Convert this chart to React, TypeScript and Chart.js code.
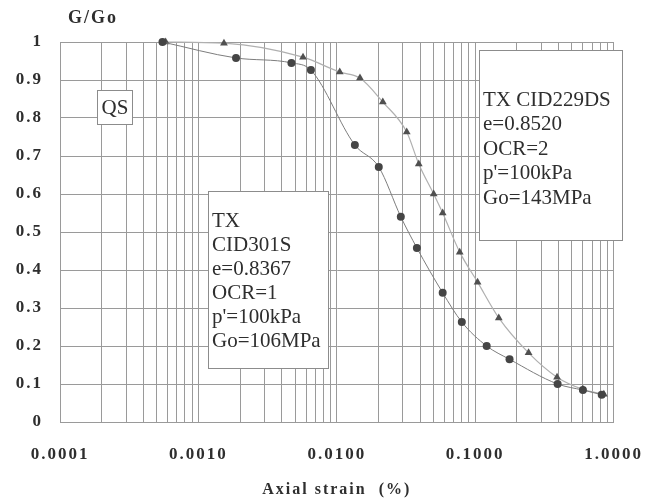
import React, { useEffect, useRef } from "react";
import { Chart, registerables } from "chart.js";

Chart.register(...registerables);

// ---- axis definitions ----
const X_DECADES = [0.0001, 0.001, 0.01, 0.1, 1];
const X_TICK_LABELS = ["0.0001", "0.0010", "0.0100", "0.1000", "1.0000"];
const X_MINOR_MULTIPLIERS = [1, 2, 3, 4, 5, 6, 7, 8, 9];
const Y_TICK_STEP = 0.1;
const Y_TITLE = "G/Go";
const X_TITLE = "Axial strain  (%)";

// ---- series: TX CID301S (OCR=1) ----
const OCR1_STRAIN = [0.00055, 0.00187, 0.0047, 0.0065, 0.0135, 0.0201, 0.029, 0.0379, 0.0582, 0.08, 0.121, 0.177, 0.394, 0.6, 0.82];
const OCR1_RATIO = [1.0, 0.958, 0.945, 0.926, 0.729, 0.671, 0.54, 0.458, 0.34, 0.263, 0.2, 0.165, 0.1, 0.084, 0.072];

// ---- series: TX CID229DS (OCR=2) ----
const OCR2_STRAIN = [0.00058, 0.00153, 0.0057, 0.0105, 0.0147, 0.0215, 0.032, 0.0391, 0.0501, 0.0582, 0.0773, 0.104, 0.148, 0.243, 0.39, 0.6, 0.85];
const OCR2_RATIO = [1.0, 0.997, 0.96, 0.921, 0.905, 0.842, 0.763, 0.679, 0.6, 0.55, 0.447, 0.368, 0.274, 0.182, 0.118, 0.086, 0.073];

// ---- annotation texts ----
const QS_LABEL = "QS";
const BOX_OCR1_LINES = ["TX", "CID301S", "e=0.8367", "OCR=1", "p'=100kPa", "Go=106MPa"];
const BOX_OCR2_LINES = ["TX CID229DS", "e=0.8520", "OCR=2", "p'=100kPa", "Go=143MPa"];

const FONT = "'Liberation Serif', 'Times New Roman', serif";
const TEXT_COLOR = "#2e2e2e";
const GRID_COLOR = "#9a9a9a";

const annotationPlugin = {
  id: "annotations",
  beforeDraw(chart: any) {
    (chart.ctx as any).letterSpacing = "2px";
  },
  afterDraw(chart: any) {
    const ctx = chart.ctx as CanvasRenderingContext2D;
    ctx.save();
    // y-axis caption
    (ctx as any).letterSpacing = "2px";
    ctx.font = `bold 18px ${FONT}`;
    ctx.fillStyle = TEXT_COLOR;
    ctx.textBaseline = "middle";
    ctx.textAlign = "left";
    ctx.fillText(Y_TITLE, 68, 18);

    (ctx as any).letterSpacing = "0px";
    const box = (x: number, y: number, w: number, h: number) => {
      ctx.fillStyle = "#ffffff";
      ctx.fillRect(x, y, w, h);
      ctx.strokeStyle = "#8c8c8c";
      ctx.lineWidth = 1;
      ctx.strokeRect(x + 0.5, y + 0.5, w, h);
    };
    ctx.font = `21px ${FONT}`;

    // QS
    box(97, 90, 35, 34);
    ctx.fillStyle = TEXT_COLOR;
    ctx.textAlign = "center";
    ctx.fillText(QS_LABEL, 115, 108);

    // OCR=1 box
    box(208, 191, 120, 177);
    ctx.fillStyle = TEXT_COLOR;
    ctx.textAlign = "left";
    BOX_OCR1_LINES.forEach((t, i) => ctx.fillText(t, 212, 221 + i * 24));

    // OCR=2 box
    box(479, 50, 143, 190);
    ctx.fillStyle = TEXT_COLOR;
    ctx.textAlign = "left";
    BOX_OCR2_LINES.forEach((t, i) => ctx.fillText(t, 483, 100 + i * 24.5));
    ctx.restore();
  },
};

export default function App() {
  const ref = useRef<HTMLCanvasElement | null>(null);

  useEffect(() => {
    if (!ref.current) return;
    const gridValues: number[] = [];
    X_DECADES.forEach((d, i) => {
      if (i === X_DECADES.length - 1) gridValues.push(d);
      else X_MINOR_MULTIPLIERS.forEach((m) => gridValues.push(d * m));
    });

    const chart = new Chart(ref.current, {
      type: "line",
      data: {
        datasets: [
          {
            label: "TX CID301S",
            data: OCR1_STRAIN.map((x, i) => ({ x, y: OCR1_RATIO[i] })),
            borderColor: "#7d7d7d",
            borderWidth: 1,
            backgroundColor: "#454545",
            pointBackgroundColor: "#454545",
            pointBorderWidth: 0,
            pointRadius: 4,
            pointStyle: "circle",
            cubicInterpolationMode: "monotone",
            clip: false,
          },
          {
            label: "TX CID229DS",
            data: OCR2_STRAIN.map((x, i) => ({ x, y: OCR2_RATIO[i] })),
            borderColor: "#b0b0b0",
            borderWidth: 1.2,
            backgroundColor: "#505050",
            pointBackgroundColor: "#505050",
            pointBorderWidth: 0,
            pointRadius: 4.5,
            pointStyle: "triangle",
            cubicInterpolationMode: "monotone",
            clip: false,
          },
        ],
      },
      options: {
        animation: false,
        responsive: false,
        devicePixelRatio: 1,
        layout: { padding: { top: 42, right: 45, bottom: 0, left: 0 } },
        plugins: {
          legend: { display: false },
          tooltip: { enabled: false },
          title: { display: false },
        },
        scales: {
          x: {
            type: "logarithmic",
            min: X_DECADES[0],
            max: X_DECADES[X_DECADES.length - 1],
            afterBuildTicks: (scale: any) => {
              scale.ticks = gridValues.map((v) => ({ value: v }));
            },
            afterFit: (scale: any) => {
              scale.height = 77;
            },
            grid: { color: GRID_COLOR, lineWidth: 1, drawTicks: false },
            border: { display: true, color: GRID_COLOR },
            ticks: {
              autoSkip: false,
              maxRotation: 0,
              padding: 22,
              color: TEXT_COLOR,
              font: { family: FONT, size: 17, weight: "bold" },
              callback: (value: any) => {
                const idx = X_DECADES.findIndex((d) => Math.abs(Math.log10(d) - Math.log10(Number(value))) < 1e-6);
                return idx >= 0 ? X_TICK_LABELS[idx] : "";
              },
            },
            title: {
              display: true,
              text: X_TITLE,
              color: TEXT_COLOR,
              font: { family: FONT, size: 16, weight: "bold" },
              padding: 0,
            },
          },
          y: {
            min: 0,
            max: 1,
            afterFit: (scale: any) => {
              scale.width = 60;
            },
            grid: { color: GRID_COLOR, lineWidth: 1, drawTicks: false },
            border: { display: true, color: GRID_COLOR },
            ticks: {
              stepSize: Y_TICK_STEP,
              padding: 17,
              color: TEXT_COLOR,
              font: { family: FONT, size: 17, weight: "bold" },
              callback: (value: any) => String(Number(Number(value).toFixed(1))),
            },
          },
        },
      },
      plugins: [annotationPlugin],
    } as any);
    return () => chart.destroy();
  }, []);

  return (
    <div style={{ position: "fixed", left: 0, top: 0, width: 659, height: 499, background: "#fff" }}>
      <canvas ref={ref} width={659} height={499} style={{ display: "block" }} />
    </div>
  );
}
